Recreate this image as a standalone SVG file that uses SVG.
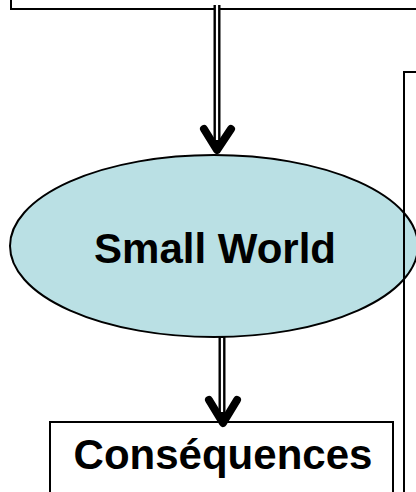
<svg xmlns="http://www.w3.org/2000/svg" width="416" height="492" viewBox="0 0 416 492">
  <style>
    .box { fill: none; stroke: #000; stroke-width: 2; }
    .ell { fill: #BAE0E4; stroke: #000; stroke-width: 2; }
    .lbl { font-family: "Liberation Sans", Arial, sans-serif; font-weight: bold; font-size: 42px; fill: #000; text-anchor: middle; }
    .shaft-o { stroke: #000; stroke-width: 7; fill: none; }
    .shaft-i { stroke: #fff; stroke-width: 2.2; fill: none; }
    .head { stroke: #000; stroke-width: 8; fill: none; stroke-linecap: round; stroke-linejoin: round; }
  </style>
  <rect width="416" height="492" fill="#fff"/>
  <g id="top-box">
    <rect class="box" x="11" y="-10" width="420" height="19" fill="#fff"/>
  </g>
  <g id="small-world">
    <ellipse class="ell" cx="214" cy="246" rx="204" ry="91"/>
    <text class="lbl" x="215" y="263">Small World</text>
  </g>
  <g id="consequences">
    <rect class="box" x="50" y="422" width="343" height="90" fill="#fff"/>
    <text class="lbl" x="223" y="469">Conséquences</text>
  </g>
  <g id="right-box">
    <rect class="box" x="404" y="72" width="40" height="440"/>
  </g>
  <g id="connectors">
    <line class="shaft-o" x1="217" y1="5" x2="217" y2="146"/>
    <line class="shaft-i" x1="217" y1="5" x2="217" y2="140"/>
    <polyline class="head" points="204,129 217,150 231,129"/>
    <line class="shaft-o" x1="222" y1="337" x2="222" y2="418"/>
    <line class="shaft-i" x1="222" y1="338" x2="222" y2="412"/>
    <polyline class="head" points="209,400 223,423 237,400"/>
  </g>
</svg>
